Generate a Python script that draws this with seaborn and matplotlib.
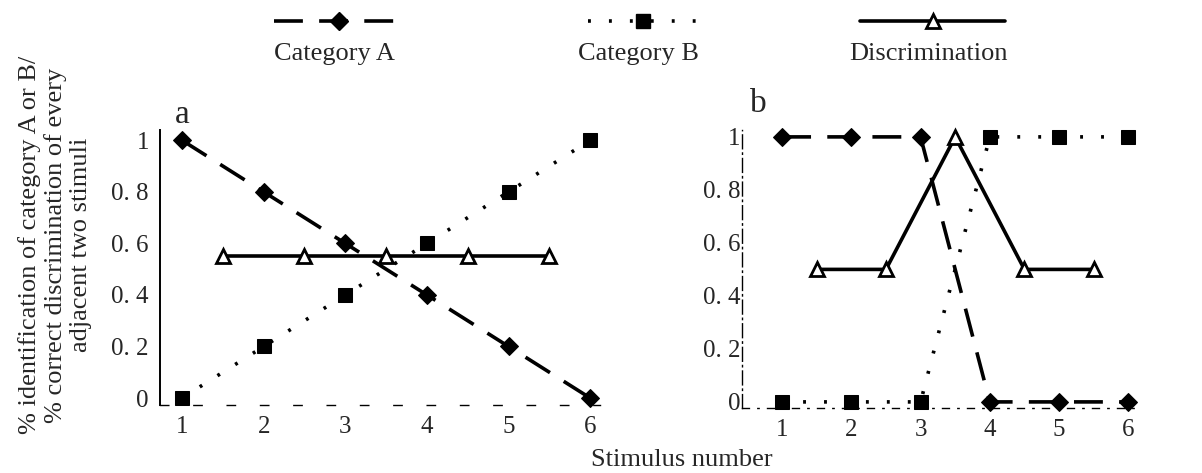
import matplotlib
matplotlib.use("Agg")
import matplotlib.pyplot as plt
from matplotlib.lines import Line2D
import numpy as np
import pandas as pd
import seaborn as sns

# Stimulus positions and identification / discrimination scores
stimuli = [1, 2, 3, 4, 5, 6]
pairs = [1.5, 2.5, 3.5, 4.5, 5.5]

a_cat_a = [1.0, 0.8, 0.6, 0.4, 0.2, 0.0]
a_cat_b = [0.0, 0.2, 0.4, 0.6, 0.8, 1.0]
a_discrim = [0.55, 0.55, 0.55, 0.55, 0.55]

b_cat_a = [1.0, 1.0, 1.0, 0.0, 0.0, 0.0]
b_cat_b = [0.0, 0.0, 0.0, 1.0, 1.0, 1.0]
b_discrim = [0.5, 0.5, 1.0, 0.5, 0.5]

y_ticks = [0, 0.2, 0.4, 0.6, 0.8, 1]
y_tick_labels = ["0", "0. 2", "0. 4", "0. 6", "0. 8", "1"]
series_names = ["Category A", "Category B", "Discrimination"]

sns.set_style("white")
plt.rcParams["font.family"] = ["Liberation Serif", "DejaVu Serif"]

W, H = 1202, 473
fig = plt.figure(figsize=(W / 100, H / 100), dpi=100)

styles = {
    "Category A": dict(color="black", lw=2.6, dashes=(8, 4.5), marker="D",
                       markersize=9, markerfacecolor="black",
                       markeredgecolor="black"),
    "Category B": dict(color="black", lw=2.6, dashes=(0.8, 5.0), marker="s",
                       markersize=9.5, markerfacecolor="black",
                       markeredgecolor="black"),
    "Discrimination": dict(color="black", lw=2.6, marker="^",
                           markersize=10, markerfacecolor="white",
                           markeredgecolor="black", markeredgewidth=2),
}


def px_axes(left, right, top, bottom):
    return fig.add_axes([left / W, 1 - bottom / H, (right - left) / W,
                         (bottom - top) / H])


def draw_panel(ax, cat_a, cat_b, discrim):
    frames = [
        pd.DataFrame({"x": stimuli, "y": cat_a}),
        pd.DataFrame({"x": stimuli, "y": cat_b}),
        pd.DataFrame({"x": pairs, "y": discrim}),
    ]
    for name, df in zip(series_names, frames):
        st = dict(styles[name])
        dashes = st.pop("dashes", None)
        sns.lineplot(data=df, x="x", y="y", ax=ax, **st)
        ln = ax.get_lines()[-1]
        if dashes is not None:
            ln.set_dashes(dashes)
        ln.set_clip_on(False)
    ax.set_xlabel("")
    ax.set_ylabel("")
    ax.set_xticks(stimuli)
    ax.set_yticks(y_ticks)
    ax.set_yticklabels(y_tick_labels)
    ax.tick_params(axis="both", labelsize=18, length=3, direction="in",
                   width=0.8, color="black")
    for sp in ["top", "right"]:
        ax.spines[sp].set_visible(False)


# panel a
ax_a = px_axes(160, 600, 130, 405)
draw_panel(ax_a, a_cat_a, a_cat_b, a_discrim)
ax_a.set_xlim(0.73, 6.12)
ax_a.set_ylim(-0.027, 1.04)
ax_a.spines["left"].set_color("black")
ax_a.spines["left"].set_linewidth(1.4)
ax_a.spines["bottom"].set_color("black")
ax_a.spines["bottom"].set_linewidth(1.0)
ax_a.spines["bottom"].set_linestyle((0, (6, 18)))
ax_a.tick_params(axis="y", pad=8)
ax_a.tick_params(axis="x", pad=8)
ax_a.text(0.05, 1.0, "a", transform=ax_a.transAxes, fontsize=24,
          ha="center", va="bottom")

# panel b
ax_b = px_axes(742, 1140, 130, 408)
draw_panel(ax_b, b_cat_a, b_cat_b, b_discrim)
ax_b.set_xlim(0.42, 6.17)
ax_b.set_ylim(-0.023, 1.026)
ax_b.spines["left"].set_color("black")
ax_b.spines["left"].set_linewidth(1.0)
ax_b.spines["left"].set_linestyle((0, (10, 3, 1, 3)))
ax_b.spines["bottom"].set_color("black")
ax_b.spines["bottom"].set_linewidth(1.0)
ax_b.spines["bottom"].set_linestyle((0, (5, 6, 1, 6)))
ax_b.tick_params(axis="y", pad=1)
ax_b.tick_params(axis="x", pad=8)
ax_b.text(0.02, 1.04, "b", transform=ax_b.transAxes, fontsize=24,
          ha="left", va="bottom")

# shared axis labels
fig.text(55 / W, 1 - 245 / H,
         "% identification of category A or B/\n"
         "% correct discrimination of every\n"
         "adjacent two stimuli",
         rotation=90, ha="center", va="center", fontsize=19,
         linespacing=1.2, multialignment="center")
fig.text(682 / W, 1 - 460 / H, "Stimulus number", ha="center",
         va="center", fontsize=19)

# legend: one handle per entry with its label set beneath it
legend_pos = [(334, 130), (638, 110), (928, 145)]
for name, (cx, length) in zip(series_names, legend_pos):
    st = dict(styles[name])
    dashes = st.pop("dashes", None)
    h = Line2D([], [], **st)
    if dashes is not None:
        h.set_dashes(dashes)
    fig.legend([h], [""], loc="center",
               bbox_to_anchor=(cx / W + 0.004, 1 - 24 / H),
               frameon=False, handlelength=length / 20.8,
               handletextpad=0, borderpad=0, fontsize=15)
    fig.text(cx / W, 1 - 54 / H, name, ha="center", va="center",
             fontsize=19)

fig.savefig("out.png", dpi=100)
